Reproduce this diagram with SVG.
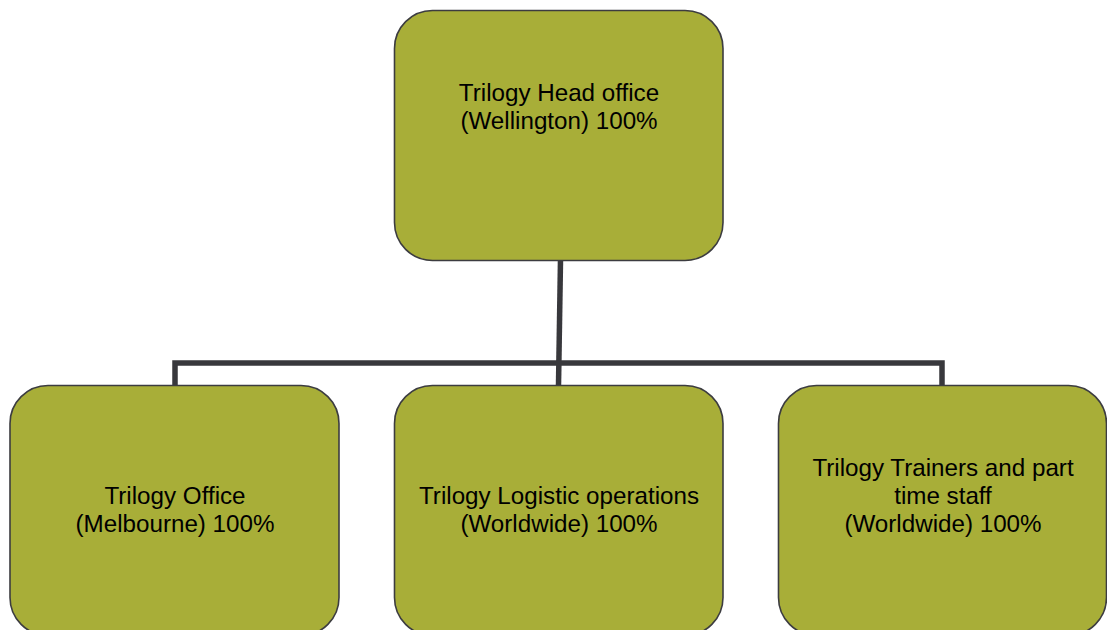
<svg xmlns="http://www.w3.org/2000/svg" width="1107" height="630" viewBox="0 0 1107 630">
<style>
.box{fill:#a8ae38;stroke:#3c3c40;stroke-width:1.6}
.lbl{font-family:"Liberation Sans",Arial,sans-serif;font-size:24.2px;fill:#000;text-anchor:middle}
.conn{fill:none;stroke:#38383c;stroke-width:5.5;stroke-linejoin:miter}
</style>
<rect width="1107" height="630" fill="#fff"/>
<g id="connectors">
<path class="conn" d="M560.5 260 L558.5 385"/>
<path class="conn" d="M175 385 L175 363 L942 363 L942 385"/>
</g>
<g id="head">
<rect class="box" x="394.5" y="10.5" width="328.5" height="250" rx="38" ry="38"/>
<text class="lbl" x="559" y="101">Trilogy Head office</text>
<text class="lbl" x="559" y="129">(Wellington) 100%</text>
</g>
<g id="melbourne">
<rect class="box" x="10" y="385.5" width="329" height="250" rx="38" ry="38"/>
<text class="lbl" x="175" y="504">Trilogy Office</text>
<text class="lbl" x="175" y="532">(Melbourne) 100%</text>
</g>
<g id="logistics">
<rect class="box" x="394.5" y="385.5" width="328.5" height="250" rx="38" ry="38"/>
<text class="lbl" x="559" y="504">Trilogy Logistic operations</text>
<text class="lbl" x="559" y="532">(Worldwide) 100%</text>
</g>
<g id="trainers">
<rect class="box" x="778.5" y="385.5" width="328" height="250" rx="38" ry="38"/>
<text class="lbl" x="943" y="476">Trilogy Trainers and part</text>
<text class="lbl" x="943" y="504">time staff</text>
<text class="lbl" x="943" y="532">(Worldwide) 100%</text>
</g>
</svg>
